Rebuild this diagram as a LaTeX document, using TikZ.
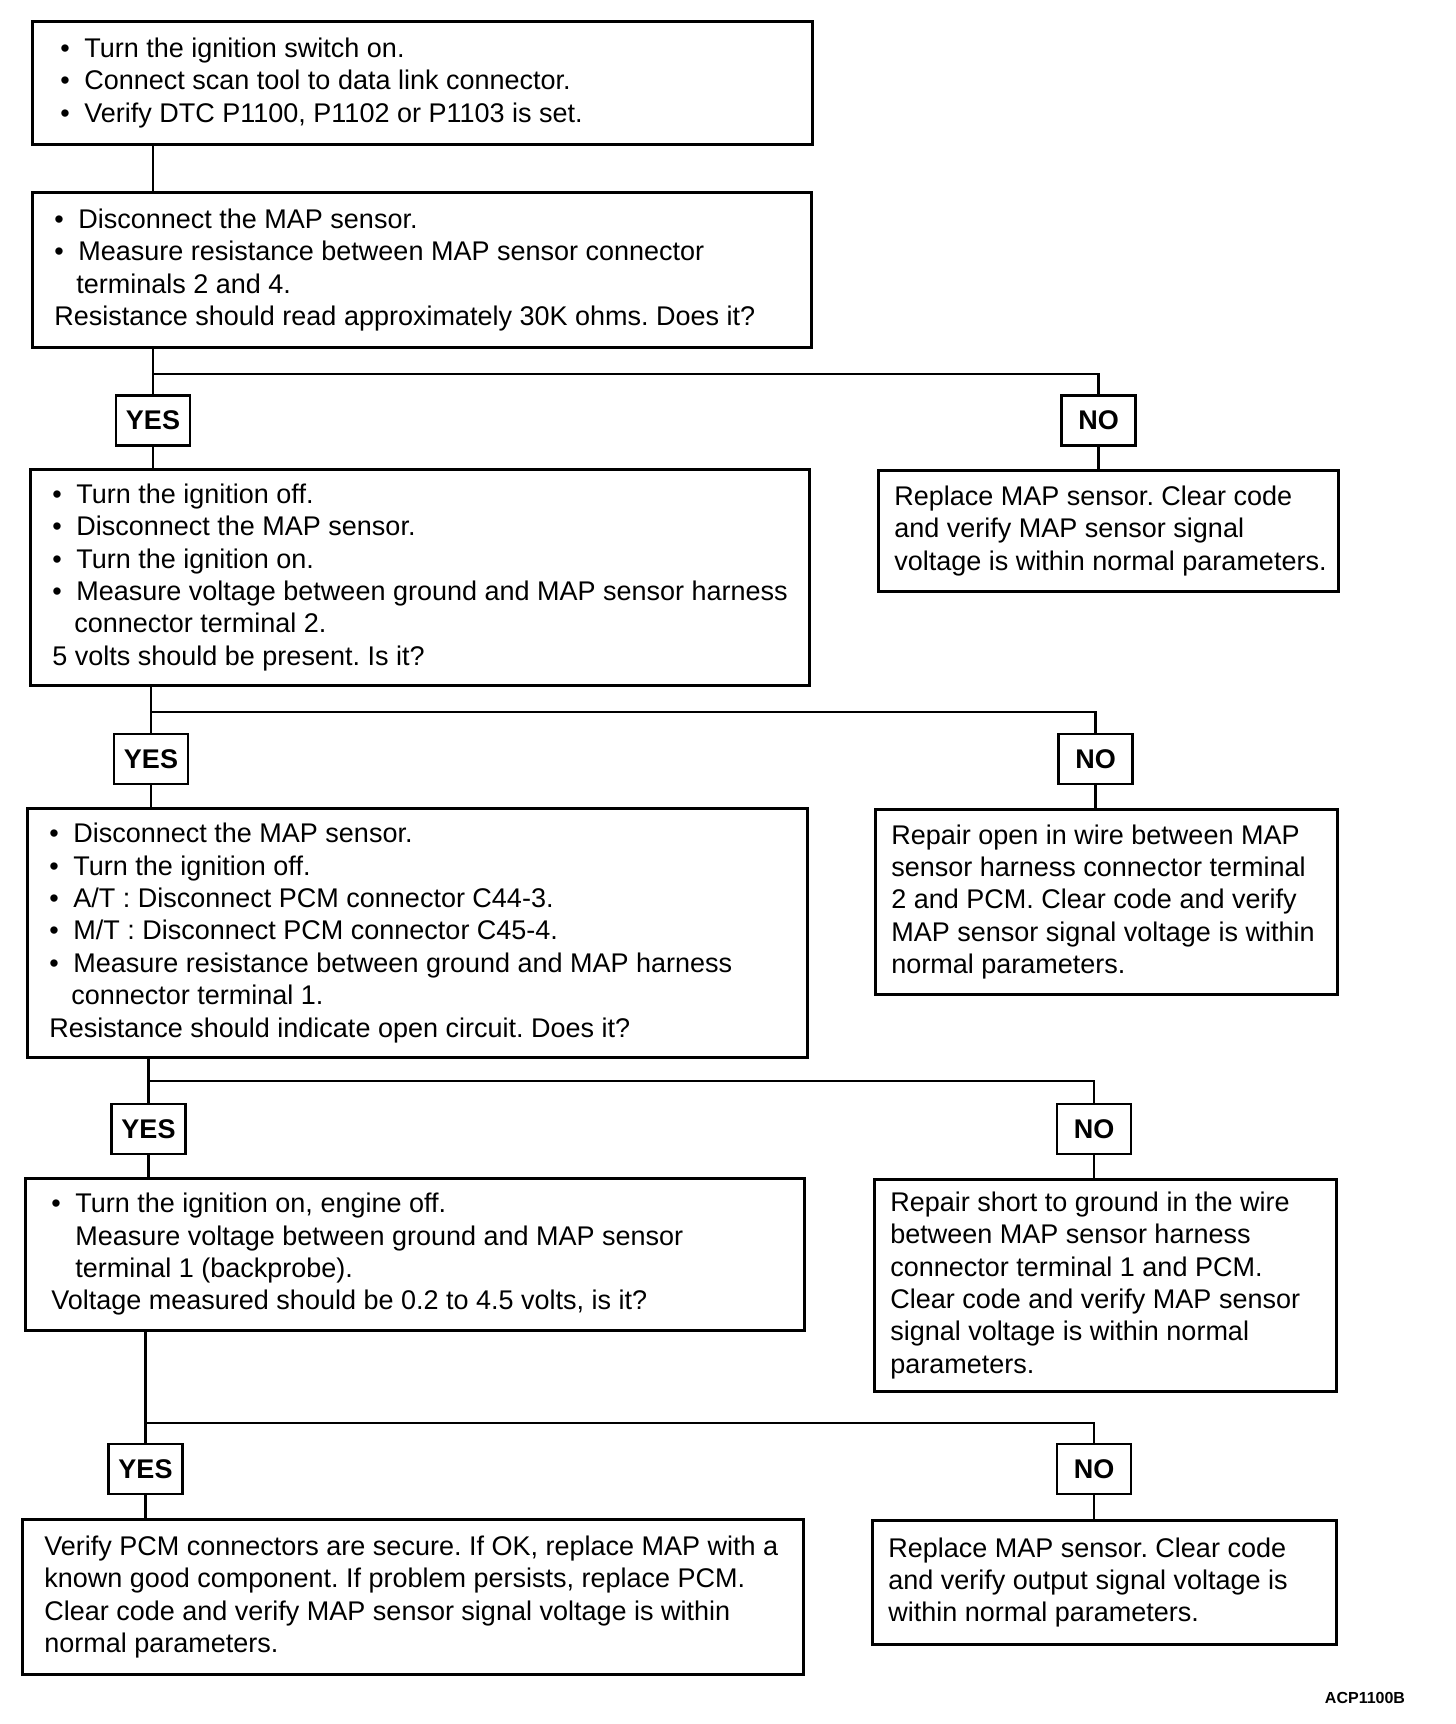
\documentclass[tikz,border=0pt]{standalone}
\usepackage{fontspec}
\setmainfont{Liberation Sans}
\frenchspacing
\newcommand{\bl}{\makebox[12pt][l]{\textbullet}}
\begin{document}
\begin{tikzpicture}[x=0.5pt,y=-0.5pt,line width=1.4pt,
  box/.style={draw,line width=1.4pt,inner sep=0pt,anchor=north west},
  txt/.style={inner sep=0pt,align=left,anchor=west,font=\fontsize{13.5pt}{16.2pt}\selectfont},
  yn/.style={draw,line width=1.4pt,inner sep=0pt,minimum width=37pt,minimum height=25pt,font=\fontsize{13.5pt}{16.2pt}\selectfont\bfseries}]
\useasboundingbox (0,0) rectangle (1456,1724);
% main boxes
\node[box,minimum width=390pt,minimum height=61.5pt] (b1) at (31,20) {};
\node[box,minimum width=389.5pt,minimum height=77.5pt] (b2) at (31,191) {};
\node[box,minimum width=389.5pt,minimum height=108pt] (b3) at (29,468) {};
\node[box,minimum width=390pt,minimum height=124.5pt] (b4) at (26,807) {};
\node[box,minimum width=389.5pt,minimum height=76pt] (b5) at (24,1177) {};
\node[box,minimum width=390.5pt,minimum height=77.5pt] (b6) at (21,1518) {};
\node[box,minimum width=230pt,minimum height=60.5pt] (n1) at (877,469) {};
\node[box,minimum width=231pt,minimum height=92.5pt] (n2) at (874,808) {};
\node[box,minimum width=231pt,minimum height=106pt] (n3) at (873,1178) {};
\node[box,minimum width=232pt,minimum height=62pt] (n4) at (871,1519) {};
% texts
\node[txt] (t1) at ([xshift=14pt]b1.west) {\bl Turn the ignition switch on.\\
\bl Connect scan tool to data link connector.\\
\bl Verify DTC P1100, P1102 or P1103 is set.};
\node[txt] (t2) at ([xshift=11pt]b2.west) {\bl Disconnect the MAP sensor.\\
\bl Measure resistance between MAP sensor connector\\
\hspace*{11pt}terminals 2 and 4.\\
Resistance should read approximately 30K ohms. Does it?};
\node[txt] (t3) at ([xshift=11pt]b3.west) {\bl Turn the ignition off.\\
\bl Disconnect the MAP sensor.\\
\bl Turn the ignition on.\\
\bl Measure voltage between ground and MAP sensor harness\\
\hspace*{11pt}connector terminal 2.\\
5 volts should be present. Is it?};
\node[txt] (t4) at ([xshift=11pt]b4.west) {\bl Disconnect the MAP sensor.\\
\bl Turn the ignition off.\\
\bl A/T : Disconnect PCM connector C44-3.\\
\bl M/T : Disconnect PCM connector C45-4.\\
\bl Measure resistance between ground and MAP harness\\
\hspace*{11pt}connector terminal 1.\\
Resistance should indicate open circuit. Does it?};
\node[txt] (t5) at ([xshift=13pt]b5.west) {\bl Turn the ignition on, engine off.\\
\hspace*{12pt}Measure voltage between ground and MAP sensor\\
\hspace*{12pt}terminal 1 (backprobe).\\
Voltage measured should be 0.2 to 4.5 volts, is it?};
\node[txt] (t6) at ([xshift=11pt]b6.west) {Verify PCM connectors are secure. If OK, replace MAP with a\\
known good component. If problem persists, replace PCM.\\
Clear code and verify MAP sensor signal voltage is within\\
normal parameters.};
\node[txt] (u1) at ([xshift=8pt]n1.west) {Replace MAP sensor. Clear code\\
and verify MAP sensor signal\\
voltage is within normal parameters.};
\node[txt] (u2) at ([xshift=8pt]n2.west) {Repair open in wire between MAP\\
sensor harness connector terminal\\
2 and PCM. Clear code and verify\\
MAP sensor signal voltage is within\\
normal parameters.};
\node[txt] (u3) at ([xshift=8pt]n3.west) {Repair short to ground in the wire\\
between MAP sensor harness\\
connector terminal 1 and PCM.\\
Clear code and verify MAP sensor\\
signal voltage is within normal\\
parameters.};
\node[txt] (u4) at ([xshift=8pt]n4.west) {Replace MAP sensor. Clear code\\
and verify output signal voltage is\\
within normal parameters.};
% yes / no labels
\node[yn] (y1) at (153,420.5) {YES};
\node[yn] (y2) at (151,759) {YES};
\node[yn] (y3) at (148.5,1129) {YES};
\node[yn] (y4) at (145.5,1469) {YES};
\node[yn] (o1) at (1098.5,420.5) {NO};
\node[yn] (o2) at (1095.5,759) {NO};
\node[yn] (o3) at (1094,1129) {NO};
\node[yn] (o4) at (1094,1469) {NO};
\coordinate (j1) at (153,374);
\coordinate (j2) at (151,712);
\coordinate (j3) at (148.5,1081);
\coordinate (j4) at (145.5,1423);
% connectors
\draw (y1.north |- b1.south) -- (y1.north |- b2.north);
\draw (y1.north |- b2.south) -- (y1.north);
\draw (y1.south) -- (y1.south |- b3.north);
\draw (j1) -| (o1.north);
\draw (o1.south) -- (o1.south |- n1.north);
\draw (y2.north |- b3.south) -- (y2.north);
\draw (y2.south) -- (y2.south |- b4.north);
\draw (j2) -| (o2.north);
\draw (o2.south) -- (o2.south |- n2.north);
\draw (y3.north |- b4.south) -- (y3.north);
\draw (y3.south) -- (y3.south |- b5.north);
\draw (j3) -| (o3.north);
\draw (o3.south) -- (o3.south |- n3.north);
\draw (y4.north |- b5.south) -- (y4.north);
\draw (y4.south) -- (y4.south |- b6.north);
\draw (j4) -| (o4.north);
\draw (o4.south) -- (o4.south |- n4.north);
\node[inner sep=0pt,font=\fontsize{8pt}{9.6pt}\selectfont\bfseries] (code) at (1365,1698) {ACP1100B};
\end{tikzpicture}
\end{document}
